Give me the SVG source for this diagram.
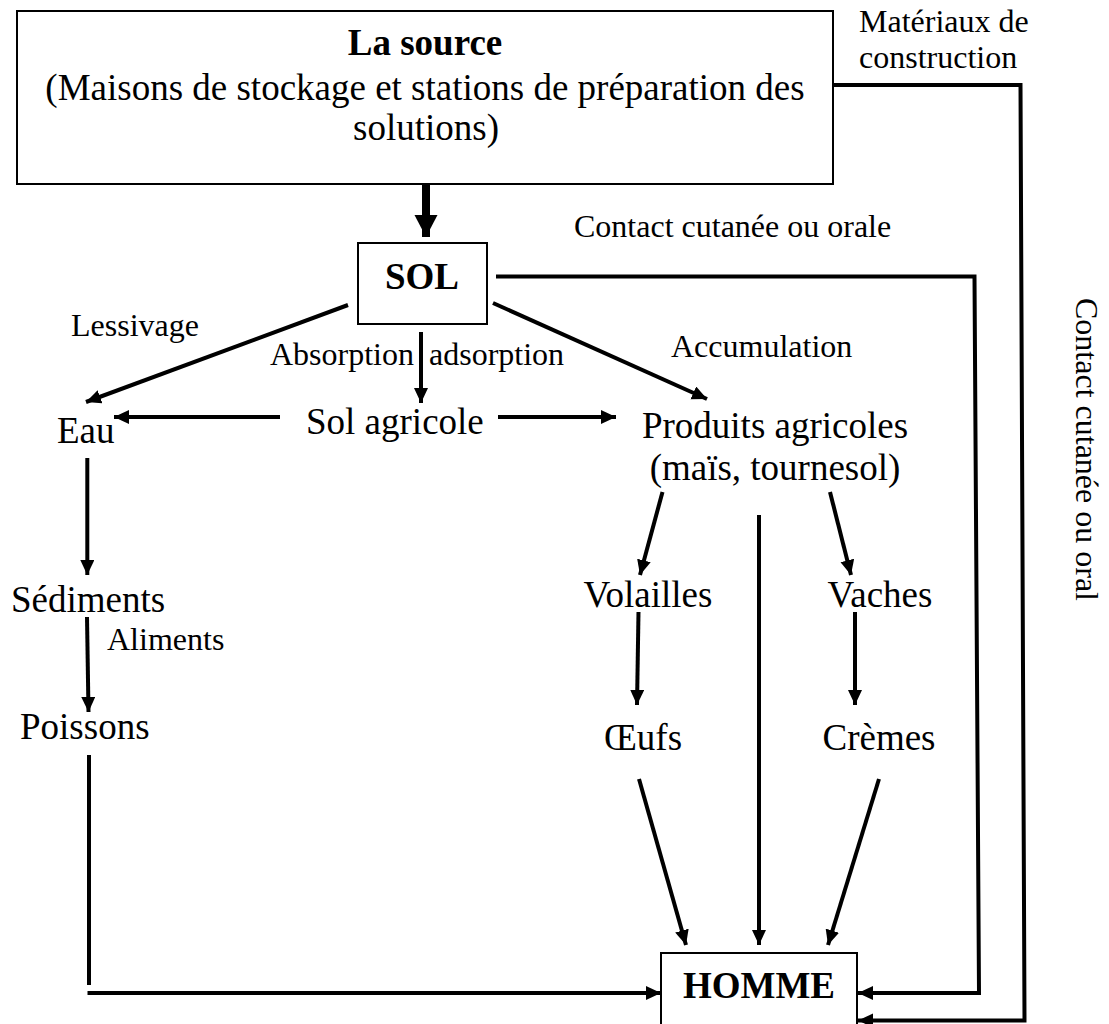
<svg xmlns="http://www.w3.org/2000/svg" width="1109" height="1024" viewBox="0 0 1109 1024">
<style>
text{font-family:"Liberation Serif","Times New Roman",serif;fill:#000}
.n{font-size:37px}
.b{font-size:37px;font-weight:bold}
.l{font-size:32px}
.c{text-anchor:middle}
.box{fill:#fff;stroke:#000;stroke-width:2}
.ln{fill:none;stroke:#000;stroke-width:4}
.la{fill:none;stroke:#000;stroke-width:4;marker-end:url(#ah)}
</style>
<defs>
<marker id="ah" markerUnits="userSpaceOnUse" markerWidth="16" markerHeight="15" refX="15" refY="7" orient="auto"><path d="M0,0 L15,7 L0,14 z" fill="#000"/></marker>
<marker id="ahb" markerUnits="userSpaceOnUse" markerWidth="23" markerHeight="24" refX="22" refY="11.5" orient="auto"><path d="M0,0 L22,11.5 L0,23 z" fill="#000"/></marker>
</defs>
<g id="connectors">
<line x1="426" y1="184" x2="426" y2="237" stroke="#000" stroke-width="8" marker-end="url(#ahb)"/>
<polyline class="la" points="833,85 1020.5,85 1024.5,1020.5 858,1020.5"/>
<polyline class="la" points="496,276.5 974.5,276.5 979,993 858,993"/>
<line class="la" x1="348" y1="305" x2="86" y2="402"/>
<line class="la" x1="280" y1="417" x2="114" y2="417"/>
<line class="la" x1="421" y1="332" x2="421" y2="403"/>
<line class="la" x1="498" y1="417" x2="616" y2="417"/>
<line class="la" x1="493" y1="303" x2="707" y2="399"/>
<line class="la" x1="87.3" y1="458" x2="87.3" y2="575"/>
<line class="la" x1="87" y1="617" x2="88.5" y2="712"/>
<line class="ln" x1="89" y1="755" x2="89" y2="985"/>
<line class="la" x1="87.5" y1="993" x2="661" y2="993"/>
<line class="la" x1="662.5" y1="492" x2="640" y2="575"/>
<line class="la" x1="759" y1="515" x2="759" y2="945"/>
<line class="la" x1="830" y1="492" x2="851" y2="575"/>
<line class="la" x1="638.5" y1="612" x2="637" y2="705"/>
<line class="la" x1="855" y1="612" x2="855" y2="705"/>
<line class="la" x1="639" y1="779" x2="686" y2="945"/>
<line class="la" x1="879" y1="779" x2="828" y2="945"/>
</g>
<g id="source">
<rect class="box" x="17" y="11" width="816" height="173"/>
<text class="b c" x="425" y="55">La source</text>
<text class="n c" x="425" y="100">(Maisons de stockage et stations de préparation des</text>
<text class="n c" x="426" y="140">solutions)</text>
</g>
<g id="sol">
<rect class="box" x="358" y="243" width="129" height="81"/>
<text class="b c" x="422" y="289">SOL</text>
</g>
<g id="homme">
<rect class="box" x="661" y="953" width="196" height="90"/>
<text class="b c" x="759" y="998">HOMME</text>
</g>
<g id="eau"><text class="n" x="57" y="443">Eau</text></g>
<g id="sol-agricole"><text class="n" x="306" y="434">Sol agricole</text></g>
<g id="produits">
<text class="n c" x="775" y="438">Produits agricoles</text>
<text class="n c" x="775" y="480">(maïs, tournesol)</text>
</g>
<g id="sediments"><text class="n" x="11" y="612">Sédiments</text></g>
<g id="poissons"><text class="n" x="20" y="739">Poissons</text></g>
<g id="volailles"><text class="n c" x="648" y="607">Volailles</text></g>
<g id="vaches"><text class="n c" x="880" y="607">Vaches</text></g>
<g id="oeufs"><text class="n c" x="643" y="750">Œufs</text></g>
<g id="cremes"><text class="n c" x="879" y="750">Crèmes</text></g>
<g id="labels">
<text class="l" x="859" y="32">Matériaux de</text>
<text class="l" x="859" y="68">construction</text>
<text class="l" x="574" y="237">Contact cutanée ou orale</text>
<text class="l" x="71" y="336">Lessivage</text>
<text class="l" x="270" y="365">Absorption</text>
<text class="l" x="429" y="365">adsorption</text>
<text class="l" x="671" y="357">Accumulation</text>
<text class="l" x="107" y="650">Aliments</text>
<text class="l" transform="translate(1076,298) rotate(90)">Contact cutanée ou oral</text>
</g>
</svg>
